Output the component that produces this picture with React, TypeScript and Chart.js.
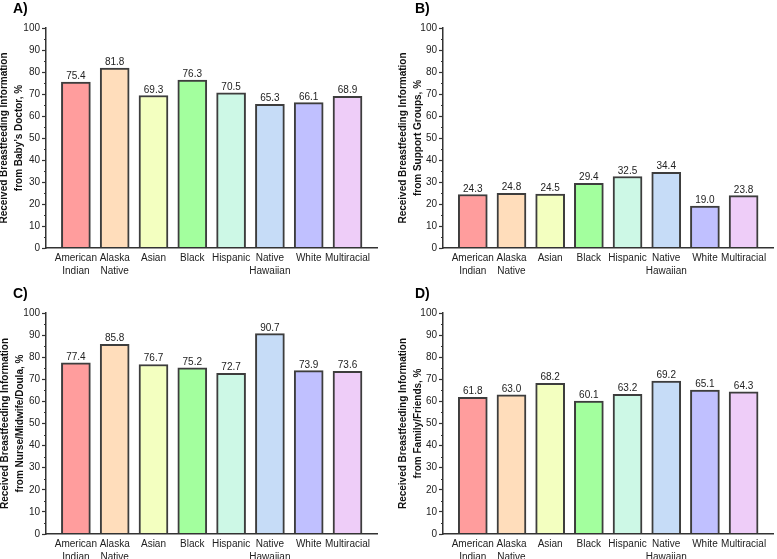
import React, { useEffect, useRef } from "react";
import { Chart, registerables } from "chart.js";

Chart.register(...registerables);

// ---------- data ----------
const categories = [
  "American Indian",
  "Alaska Native",
  "Asian",
  "Black",
  "Hispanic",
  "Native Hawaiian",
  "White",
  "Multiracial",
];
const categoryLines = [
  ["American", "Indian"],
  ["Alaska", "Native"],
  ["Asian"],
  ["Black"],
  ["Hispanic"],
  ["Native", "Hawaiian"],
  ["White"],
  ["Multiracial"],
];
const doctorValues = [75.4, 81.8, 69.3, 76.3, 70.5, 65.3, 66.1, 68.9];
const supportValues = [24.3, 24.8, 24.5, 29.4, 32.5, 34.4, 19.0, 23.8];
const nurseValues = [77.4, 85.8, 76.7, 75.2, 72.7, 90.7, 73.9, 73.6];
const familyValues = [61.8, 63.0, 68.2, 60.1, 63.2, 69.2, 65.1, 64.3];
const yTicks = [0, 10, 20, 30, 40, 50, 60, 70, 80, 90, 100];
const yMinorTicks = [5, 15, 25, 35, 45, 55, 65, 75, 85, 95];
const titleLine1 = "Received Breastfeeding Information";
const panelLetters = ["A)", "B)", "C)", "D)"];
const panelTitles = [
  "from Baby\u2019s Doctor, %",
  "from Support Groups, %",
  "from Nurse/Midwife/Doula, %",
  "from Family/Friends, %",
];

// ---------- styles ----------
const barColors = [
  "#FF9D9D",
  "#FFDDBB",
  "#F3FFC0",
  "#A3FF9E",
  "#CDF8E6",
  "#C6DCF7",
  "#C0C0FF",
  "#EECDF8",
];
const FONT = '"Liberation Sans", Arial, Helvetica, sans-serif';
const axisColor = "#333333";
const textColor = "#222222";

type Box = { left: number; top: number; width: number; height: number };
type Area = { left: number; top: number; right: number; bottom: number };

const panels: {
  values: number[];
  box: Box;
  area: Area;
  titlePad: number;
  letterPos: { x: number; y: number };
}[] = [
  {
    values: doctorValues,
    box: { left: 0, top: 0, width: 388, height: 280 },
    area: { left: 46, top: 28, right: 377, bottom: 248 },
    titlePad: -3,
    letterPos: { x: 13, y: 1 },
  },
  {
    values: supportValues,
    box: { left: 390, top: 0, width: 387, height: 280 },
    area: { left: 53, top: 28, right: 383, bottom: 248 },
    titlePad: 5.5,
    letterPos: { x: 415, y: 1 },
  },
  {
    values: nurseValues,
    box: { left: 0, top: 280, width: 388, height: 279 },
    area: { left: 46, top: 33, right: 377, bottom: 254 },
    titlePad: -2.5,
    letterPos: { x: 13, y: 286 },
  },
  {
    values: familyValues,
    box: { left: 390, top: 280, width: 387, height: 279 },
    area: { left: 53, top: 33, right: 383, bottom: 254 },
    titlePad: 5.5,
    letterPos: { x: 415, y: 286 },
  },
];

const extrasPlugin = {
  id: "panelExtras",
  afterDatasetsDraw(chart: any) {
    const ctx = chart.ctx;
    const meta = chart.getDatasetMeta(0);
    const data = chart.data.datasets[0].data as { x: number; y: number }[];
    ctx.save();
    ctx.font = `10px ${FONT}`;
    ctx.fillStyle = textColor;
    ctx.textAlign = "center";
    ctx.textBaseline = "alphabetic";
    meta.data.forEach((bar: any, i: number) => {
      ctx.fillText(data[i].y.toFixed(1), bar.x, bar.y - 3);
    });
    const ys = chart.scales.y;
    ctx.strokeStyle = axisColor;
    ctx.lineWidth = 1.2;
    yMinorTicks.forEach((v) => {
      const py = Math.round(ys.getPixelForValue(v)) + 0.5;
      ctx.beginPath();
      ctx.moveTo(ys.right - 2, py);
      ctx.lineTo(ys.right, py);
      ctx.stroke();
    });
    ctx.restore();
  },
};

function Panel({ idx }: { idx: number }) {
  const ref = useRef<HTMLCanvasElement>(null);
  const p = panels[idx];
  useEffect(() => {
    if (!ref.current) return;
    const { box, area } = p;
    const chart = new Chart(ref.current, {
      type: "bar",
      data: {
        datasets: [
          {
            data: p.values.map((v, i) => ({ x: i, y: v })),
            backgroundColor: barColors,
            borderColor: "#3d3d3d",
            borderWidth: 2,
            barThickness: 29,
          } as any,
        ],
      },
      options: {
        responsive: false,
        animation: false,
        devicePixelRatio: 1,
        layout: {
          padding: {
            top: area.top,
            right: box.width - area.right,
            left: 0,
            bottom: 0,
          },
        },
        plugins: {
          legend: { display: false },
          tooltip: { enabled: false },
        },
        scales: {
          x: {
            type: "linear",
            offset: false,
            min: -0.77,
            max: 7.76,
            afterBuildTicks: (s: any) => {
              s.ticks = categories.map((_, i) => ({ value: i }));
            },
            afterFit: (s: any) => {
              s.height = box.height - area.bottom;
            },
            grid: { display: false, drawTicks: false },
            border: { display: true, color: axisColor, width: 1.5, z: 1 },
            ticks: {
              autoSkip: false,
              maxRotation: 0,
              minRotation: 0,
              padding: 4,
              color: textColor,
              font: { family: FONT, size: 10, lineHeight: 1.25 },
              callback: (v: any) => categoryLines[v as number] ?? "",
            },
          },
          y: {
            min: 0,
            max: 100,
            afterBuildTicks: (s: any) => {
              s.ticks = yTicks.map((v) => ({ value: v }));
            },
            afterFit: (s: any) => {
              s.width = area.left;
            },
            grid: {
              display: true,
              drawOnChartArea: false,
              drawTicks: true,
              tickLength: 4,
              tickColor: axisColor,
              tickWidth: 1.2,
            },
            border: { display: true, color: axisColor, width: 1.5 },
            ticks: {
              padding: 2,
              color: textColor,
              font: { family: FONT, size: 10 },
            },
            title: {
              display: true,
              text: [titleLine1, panelTitles[idx]],
              color: "#111111",
              font: { family: FONT, size: 10, weight: "bold", lineHeight: 1.5 },
              padding: { top: p.titlePad, bottom: 0 },
            },
          },
        },
      } as any,
      plugins: [extrasPlugin],
    });
    return () => chart.destroy();
  }, [idx]);

  return (
    <>
      <canvas
        ref={ref}
        width={p.box.width}
        height={p.box.height}
        style={{
          position: "absolute",
          left: p.box.left,
          top: p.box.top,
          width: p.box.width,
          height: p.box.height,
        }}
      />
      <div
        style={{
          position: "absolute",
          left: p.letterPos.x,
          top: p.letterPos.y,
          font: `bold 14px ${FONT}`,
          lineHeight: "14px",
          color: "#000",
        }}
      >
        {panelLetters[idx]}
      </div>
    </>
  );
}

export default function App() {
  return (
    <div
      style={{
        position: "absolute",
        left: 0,
        top: 0,
        width: 777,
        height: 559,
        background: "#fff",
        overflow: "hidden",
      }}
    >
      {panels.map((_, i) => (
        <Panel key={i} idx={i} />
      ))}
    </div>
  );
}
